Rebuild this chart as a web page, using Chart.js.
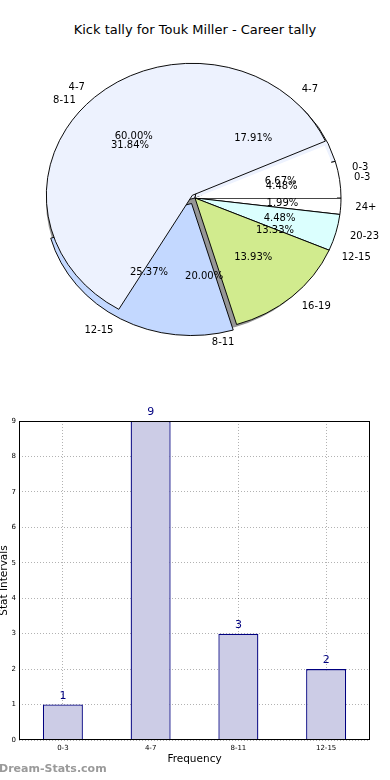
<!DOCTYPE html>
<html lang="en">
<head>
  <meta charset="UTF-8">
  <meta name="viewport" content="width=device-width, initial-scale=1.0">
  <script src="https://cdn.jsdelivr.net/npm/chart.js"></script>
  <title>Kick tally - Touk Miller</title>
  <style>
    body { margin: 0; width: 390px; height: 780px; position: relative; overflow: hidden; background: #fff; font-family: "DejaVu Sans", sans-serif; }
    .titulo { position: absolute; top: 22px; left: 0; width: 390px; text-align: center; font-size: 13px; color: #000; }
    .pizza { position: absolute; left: 0; top: 38px; width: 390px; height: 320px; }
    .barras { position: absolute; left: 0; top: 405px; width: 390px; height: 375px; }
    .marca { position: absolute; left: -1px; top: 762px; font-size: 11px; font-weight: bold; color: #9a9a9a; }
  </style>
</head>
<body>
  <div class="titulo">Kick tally for Touk Miller - Career tally</div>
  <div class="pizza"><canvas id="pizzaCarreira"></canvas></div>
  <div class="pizza"><canvas id="pizzaJogos"></canvas></div>
  <div class="barras"><canvas id="graficoBarras"></canvas></div>
  <div class="marca">Dream-Stats.com</div>

<script>
  // dados
  const faixasCarreira = ['0-3', '4-7', '8-11', '12-15', '16-19', '20-23', '24+'];
  const chutesCarreira = [9, 36, 64, 51, 28, 9, 4];
  const faixasJogos = ['0-3', '4-7', '8-11', '12-15'];
  const jogosPorFaixa = [1, 9, 3, 2];
  const ticksY = [0, 1, 2, 3, 4, 5, 6, 7, 8, 9];

  // estilos
  const coresCarreira = ['#ffffff', '#edf2fe', '#edf2fe', '#c3d8ff', '#d1eb8e', '#dbfffe', '#ffffff'];
  const explodeCarreira = [0, 0, 0, 28, 0, 0, 0];
  const coresJogos = ['#ffffff', '#edf2fe', 'rgba(0,0,0,0)', 'rgba(0,0,0,0)'];
  const bordaJogos = [0, 1, 0, 0];
  const explodeJogos = [0, 16, 0, 0];

  const RAIO = 146;
  const SY = 132 / 146; // a pizza do original e achatada
  const inv = a => a.slice().reverse(); // matplotlib gira no sentido anti-horario

  // escreve porcentagens e faixas de uma pizza
  function rotulosPizza(ctx, chart) {
    const dados = chart.data.datasets[0].data;
    const nomes = chart.data.labels;
    const total = dados.reduce((s, v) => s + v, 0);
    chart.getDatasetMeta(0).data.forEach((arco, i) => {
      const meio = (arco.startAngle + arco.endAngle) / 2;
      const desl = (arco.options.offset || 0) / 4;
      const c = Math.cos(meio), s = Math.sin(meio);
      ctx.textAlign = 'center';
      ctx.fillText((dados[i] / total * 100).toFixed(2) + '%',
        arco.x + (desl + 0.6 * RAIO) * c, arco.y + (desl + 0.6 * RAIO) * s * SY);
      ctx.textAlign = c > 0 ? 'left' : 'right';
      ctx.fillText(nomes[i], arco.x + (desl + 1.1 * RAIO) * c, arco.y + (desl + 1.1 * RAIO) * s * SY);
    });
  }

  function pluginPizza(comSombra, comRotulos) {
    return {
      id: 'pizza',
      beforeDatasetsDraw(chart) {
        const ctx = chart.ctx;
        const a = chart.getDatasetMeta(0).data[0];
        ctx.save();
        ctx.translate(a.x, a.y);
        ctx.scale(1, SY);
        ctx.translate(-a.x, -a.y);
        if (comSombra) {
          ctx.fillStyle = 'rgba(80,80,80,0.6)';
          ctx.beginPath();
          ctx.arc(a.x - 3, a.y + 3 / SY, RAIO, 0, Math.PI * 2);
          ctx.fill();
        }
      },
      afterDatasetsDraw(chart) {
        const ctx = chart.ctx;
        ctx.restore();
        if (!comRotulos) return;
        ctx.save();
        ctx.font = '10px "DejaVu Sans"';
        ctx.fillStyle = '#000';
        ctx.textBaseline = 'middle';
        // os rotulos da pizza de baixo ficam por cima de tudo
        const debaixo = Chart.getChart('pizzaCarreira');
        if (debaixo) rotulosPizza(ctx, debaixo);
        rotulosPizza(ctx, chart);
        ctx.restore();
      }
    };
  }

  const opcoesPizza = raio => ({
    responsive: true,
    maintainAspectRatio: false,
    animation: false,
    events: [],
    rotation: 90,
    radius: raio,
    plugins: { legend: { display: false }, tooltip: { enabled: false } }
  });

  new Chart(document.getElementById('pizzaCarreira'), {
    type: 'pie',
    data: {
      labels: inv(faixasCarreira),
      datasets: [{
        data: inv(chutesCarreira),
        backgroundColor: inv(coresCarreira),
        borderColor: '#000',
        borderWidth: 1,
        offset: inv(explodeCarreira)
      }]
    },
    options: opcoesPizza(RAIO),
    plugins: [pluginPizza(true, false)]
  });

  new Chart(document.getElementById('pizzaJogos'), {
    type: 'pie',
    data: {
      labels: inv(faixasJogos),
      datasets: [{
        data: inv(jogosPorFaixa),
        backgroundColor: inv(coresJogos),
        borderColor: '#000',
        borderWidth: inv(bordaJogos),
        offset: inv(explodeJogos)
      }]
    },
    options: opcoesPizza(RAIO - 4),
    plugins: [pluginPizza(false, true)]
  });

  // moldura preta em volta da area do grafico
  const moldura = {
    id: 'moldura',
    afterDraw(chart) {
      const { ctx, chartArea: a } = chart;
      ctx.save();
      ctx.strokeStyle = '#000';
      ctx.lineWidth = 1;
      ctx.strokeRect(a.left + 0.5, a.top + 0.5, a.right - a.left - 1, a.bottom - a.top - 1);
      ctx.restore();
    }
  };

  const rotulosBarras = {
    id: 'rotulos',
    afterDatasetsDraw(chart) {
      const ctx = chart.ctx;
      ctx.save();
      ctx.font = '11px "DejaVu Sans"';
      ctx.fillStyle = '#000080';
      ctx.textAlign = 'center';
      ctx.textBaseline = 'bottom';
      chart.getDatasetMeta(0).data.forEach((barra, i) => {
        ctx.fillText(chart.data.datasets[0].data[i], barra.x, barra.y - 3);
      });
      ctx.restore();
    }
  };

  new Chart(document.getElementById('graficoBarras'), {
    type: 'bar',
    data: {
      labels: faixasJogos,
      datasets: [{
        data: jogosPorFaixa,
        backgroundColor: '#ccccE6',
        borderColor: '#000080',
        borderWidth: 1.3,
        barPercentage: 0.456,
        categoryPercentage: 1
      }]
    },
    options: {
      responsive: true,
      maintainAspectRatio: false,
      animation: false,
      events: [],
      layout: { padding: { top: 16, right: 20, left: 0, bottom: 0 } },
      plugins: { legend: { display: false }, tooltip: { enabled: false } },
      scales: {
        x: {
          grid: { offset: false, color: 'rgba(0,0,0,0.3)', drawTicks: false },
          border: { display: false, dash: [1, 2] },
          ticks: { padding: 4, color: '#000', font: { family: 'DejaVu Sans', size: 7 } },
          title: { display: true, text: 'Frequency', color: '#000', padding: { top: 0, bottom: 14 }, font: { family: 'DejaVu Sans', size: 10.5 } },
          afterFit: s => { s.height = 40; }
        },
        y: {
          min: 0,
          max: 9,
          afterBuildTicks: s => { s.ticks = ticksY.map(v => ({ value: v })); },
          grid: { color: 'rgba(0,0,0,0.3)', drawTicks: false },
          border: { display: false, dash: [1, 2] },
          ticks: { padding: 3, color: '#000', font: { family: 'DejaVu Sans', size: 7 } },
          title: { display: true, text: 'Stat Intervals', color: '#000', padding: { top: -1, bottom: 0 }, font: { family: 'DejaVu Sans', size: 10.5, lineHeight: 1 } },
          afterFit: s => { s.width = 19; }
        }
      }
    },
    plugins: [moldura, rotulosBarras]
  });
</script>
</body>
</html>
